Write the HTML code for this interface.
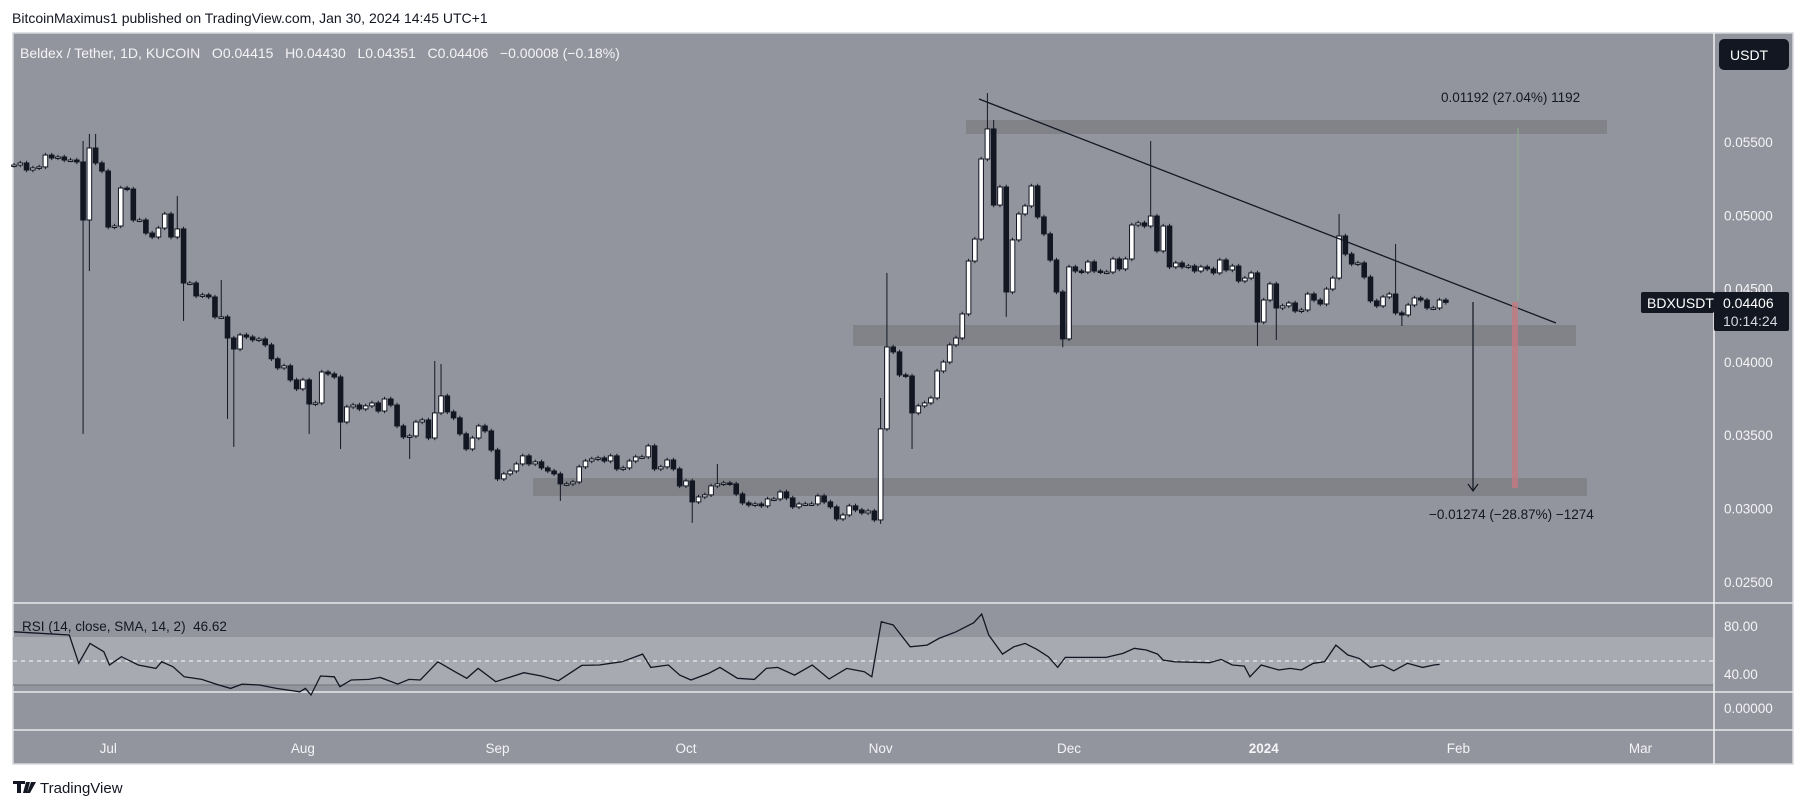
<!DOCTYPE html>
<html><head><meta charset="utf-8">
<style>
body{margin:0;background:#fff;width:1807px;height:809px;overflow:hidden;font-family:"Liberation Sans",sans-serif;}
svg{position:absolute;left:0;top:0}
text{white-space:pre}
</style></head>
<body>
<svg id="chart" width="1807" height="809" xmlns="http://www.w3.org/2000/svg">
  <text x="12" y="23" font-size="14" fill="#131722">BitcoinMaximus1 published on TradingView.com, Jan 30, 2024 14:45 UTC+1</text>
  <rect x="13" y="33" width="1780" height="731" fill="#93959e" stroke="#d6d8de" stroke-width="1.5"/>
  <rect x="13" y="637" width="1701" height="48" fill="#a8aab2"/>
  <line x1="13" y1="685" x2="1714" y2="685" stroke="#7f828a" stroke-width="1.5"/>
  <line x1="13" y1="661" x2="1714" y2="661" stroke="#eeeeee" stroke-width="1.2" stroke-dasharray="4,4"/>
  <line x1="13" y1="603" x2="1793" y2="603" stroke="#e8e9ec" stroke-width="1.5"/>
  <line x1="13" y1="692" x2="1793" y2="692" stroke="#e8e9ec" stroke-width="1.5"/>
  <line x1="13" y1="730" x2="1793" y2="730" stroke="#e8e9ec" stroke-width="1.5"/>
  <line x1="1714" y1="33" x2="1714" y2="764" stroke="#f2f2f2" stroke-width="1.5"/>
  <rect x="966" y="120" width="641" height="14" fill="#818389"/>
  <rect x="853" y="325" width="723" height="21" fill="#818389"/>
  <rect x="533" y="478" width="1054" height="18" fill="#818389"/>
  <g id="candles"></g>
  <line x1="979" y1="99" x2="1556" y2="323" stroke="#131722" stroke-width="1.3"/>
  <line x1="1518" y1="128" x2="1518" y2="300" stroke="#8fb08f" stroke-width="1"/>
  <rect x="1512" y="302" width="6" height="186" fill="#c47b82" opacity="0.8"/>
  <line x1="1473" y1="302" x2="1473" y2="490" stroke="#131722" stroke-width="1.2"/>
  <path d="M1468,484 L1473,491 L1478,484" fill="none" stroke="#131722" stroke-width="1.2"/>
  <text x="1441" y="102" font-size="13.5" fill="#131722">0.01192 (27.04%) 1192</text>
  <text x="1429" y="519" font-size="13.5" fill="#131722">−0.01274 (−28.87%) −1274</text>
  <text x="20" y="58" font-size="14" fill="#f4f4f6">Beldex / Tether, 1D, KUCOIN   O0.04415   H0.04430   L0.04351   C0.04406   −0.00008 (−0.18%)</text>
  <rect x="1719" y="39" width="70" height="31" rx="5" fill="#131722"/>
  <text x="1730" y="60" font-size="14" fill="#fff">USDT</text>
  <g id="yaxis"></g>
  <rect x="1641" y="292" width="73" height="21" rx="2" fill="#131722"/>
  <text x="1647" y="308" font-size="14" fill="#fff">BDXUSDT</text>
  <rect x="1714" y="292" width="75" height="39" rx="2" fill="#131722"/>
  <text x="1723" y="308" font-size="14" fill="#fff">0.04406</text>
  <text x="1723" y="326" font-size="14" fill="#d6d8de">10:14:24</text>
  <polyline id="rsiLine" fill="none" stroke="#131722" stroke-width="1.3"/>
  <text x="22" y="631" font-size="13.5" fill="#131722">RSI (14, close, SMA, 14, 2)  46.62</text>
  <text x="1724" y="631" font-size="13.5" fill="#f4f4f6">80.00</text>
  <text x="1724" y="679" font-size="13.5" fill="#f4f4f6">40.00</text>
  <text x="1724" y="713" font-size="13.5" fill="#f4f4f6">0.00000</text>
  <g id="xaxis"></g>
  <g>
    <path d="M13,781 h12 v3 h-4 v9 h-4 v-9 h-4z M26,782 h4 l-3,11 h-4z M31,782 h5 l-6,11 h-3z" fill="#131722"/>
    <text x="40" y="793" font-size="15" fill="#131722">TradingView</text>
  </g>
</svg>
<script>
// closes in 1e-5 USDT, daily candles starting Jun 16 2023
const closes=[5343,5357,5309,5323,5330,5411,5391,5398,5377,5377,5364,4968,5459,5357,5302,4920,4927,5186,5179,4968,4968,4879,4852,4913,5009,4852,4907,4538,4538,4450,4457,4443,4307,4307,4163,4088,4184,4170,4150,4156,4116,4021,3959,3973,3877,3816,3877,3713,3720,3931,3918,3897,3590,3693,3706,3679,3700,3720,3665,3747,3706,3563,3488,3495,3590,3604,3481,3652,3768,3659,3618,3509,3406,3481,3563,3529,3399,3202,3236,3256,3304,3359,3304,3318,3277,3256,3236,3168,3168,3181,3284,3324,3338,3345,3324,3359,3270,3277,3324,3352,3352,3427,3270,3284,3331,3270,3154,3188,3045,3079,3093,3154,3168,3174,3168,3099,3038,3024,3031,3018,3065,3065,3113,3072,3011,3031,3031,3031,3086,3045,3011,2929,2956,3018,2990,2970,2983,2922,3543,4102,4068,3911,3904,3652,3700,3720,3754,3938,3999,4116,4163,4327,4688,4838,5384,5589,5070,5193,4477,4832,5009,5064,5200,4989,4873,4695,4477,4157,4648,4620,4613,4682,4620,4613,4613,4702,4634,4702,4934,4948,4927,4995,4757,4927,4648,4675,4648,4654,4620,4648,4634,4607,4695,4627,4654,4552,4572,4607,4272,4422,4532,4368,4382,4402,4347,4354,4463,4422,4395,4497,4572,4859,4736,4668,4675,4579,4416,4382,4443,4463,4334,4320,4388,4436,4422,4368,4368,4422,4406];
const firstOpen=5340;
const highIdx=[12,13,14,27,34,68,69,113,139,140,156,157,182,212,221];
const highVal=[5507,5555,5555,5132,4559,4006,3986,3304,3754,4607,5834,5650,5507,5009,4804];
const lowIdx=[12,13,28,35,36,48,53,64,88,109,139,144,159,168,199,202,222];
const lowVal=[3509,4620,4279,3611,3420,3509,3406,3338,3052,2902,2895,3406,4307,4100,4109,4150,4245];
const yTicks=[5500,5000,4500,4000,3500,3000,2500];
const monthLabels=["Jul","Aug","Sep","Oct","Nov","Dec","2024","Feb","Mar"];
const monthDays=[15,46,77,107,138,168,199,230,259];
const rsiDay=[0,8.8,10.3,12.1,14.3,15.2,17.1,19.8,22.6,23.5,25.3,27.1,29.9,32.6,34.5,36.3,39.1,41.8,45.5,46.4,47.3,48.8,51,51.9,53.7,56.5,58.3,61.1,62.9,64.7,67.5,70.2,72.1,73.9,76.7,81.2,84,86.7,90.4,93.2,95,96.8,100.1,101.4,104.2,106,107.8,110.6,112.4,115.2,117.9,119.8,121.6,124.3,127.1,129.8,132.6,135.4,136.6,138.1,140,142.7,145.4,147.3,150,152.8,154.1,155.2,157.4,159.2,161,162.9,164.7,166.2,167.4,170.2,173.9,176.6,178.4,180.3,182.1,183,184.9,190.4,192.2,194,195.9,196.8,198.6,201.4,203.2,205,206.9,208.7,210.5,212.4,214.2,216,217.9,219.7,221.9,224.3,226.1,227];
const rsiVal=[75.2,72.5,48.9,65.5,58.6,47.5,54.4,47.5,44.7,50.2,46.1,37.7,35.5,30.8,28,31.6,30.8,28,25.2,28,22.5,38.3,37.7,29.4,35,35.5,37.2,31.6,35.5,35,50.2,41.9,36.4,44.7,33.6,41.1,38.3,34.4,47.2,47.5,48.9,50.2,56.6,45.5,47.5,39.1,35,40.5,45.5,36.4,35.5,44.7,45.5,39.1,47.5,35.8,44.7,41.9,37.7,83.6,80.8,62.7,64.1,69.7,75.2,82.7,90,72.5,56.6,62.7,65.5,60.5,54.4,45.5,53.8,53.8,53.8,57.2,61.4,60,56.6,51.6,50.2,49.4,52.2,47.5,46.6,37.7,47.5,43.3,44.7,43.3,48.9,50.2,64.1,55.8,53,45.5,47.5,42.7,48.9,45.5,47.5,48];

const NS="http://www.w3.org/2000/svg";
const xDay=d=>14+6.28*d;
const yP=p=>142+(5500-p)/500*73.3;
const yR=v=>626+(80-v)*1.2;
const mk=(t,a,parent)=>{const e=document.createElementNS(NS,t);for(const k in a)e.setAttribute(k,a[k]);parent.appendChild(e);return e;};

const cg=document.getElementById('candles');
for(let i=0;i<closes.length;i++){
  const o=i===0?firstOpen:closes[i-1], c=closes[i];
  const top=Math.max(o,c), bot=Math.min(o,c);
  let hi=top+15, lo=bot-15;
  const hk=highIdx.indexOf(i+1); if(hk>=0) hi=highVal[hk];
  const lk=lowIdx.indexOf(i+1); if(lk>=0) lo=lowVal[lk];
  const x=xDay(i);
  const w=mk('line',{x1:x,x2:x,y1:yP(hi),y2:yP(lo),stroke:'#131722','stroke-width':1},cg);
  
  
  const h=Math.max(1.5,yP(bot)-yP(top));
  const b=mk('rect',{x:x-2.3,y:yP(top),width:4.6,height:h,fill:c>=o?'#ffffff':'#131722',stroke:'#131722','stroke-width':1},cg);
  
  
}
const ya=document.getElementById('yaxis');
yTicks.forEach(p=>{
  const t=mk('text',{x:1724,y:yP(p)+5,'font-size':13.5,fill:'#f4f4f6'},ya);
  t.textContent=(p/100000).toFixed(5);
  
  
});
const xa=document.getElementById('xaxis');
monthLabels.forEach((m,i)=>{
  const t=mk('text',{x:xDay(monthDays[i]),y:753,'font-size':13.5,fill:'#f4f4f6','text-anchor':'middle','font-weight':m==='2024'?'bold':'normal'},xa);
  t.textContent=m;
  
  
});
document.getElementById('rsiLine').setAttribute('points',rsiDay.map((d,i)=>xDay(d).toFixed(1)+','+yR(rsiVal[i]).toFixed(1)).join(' '));
</script>
</body></html>
